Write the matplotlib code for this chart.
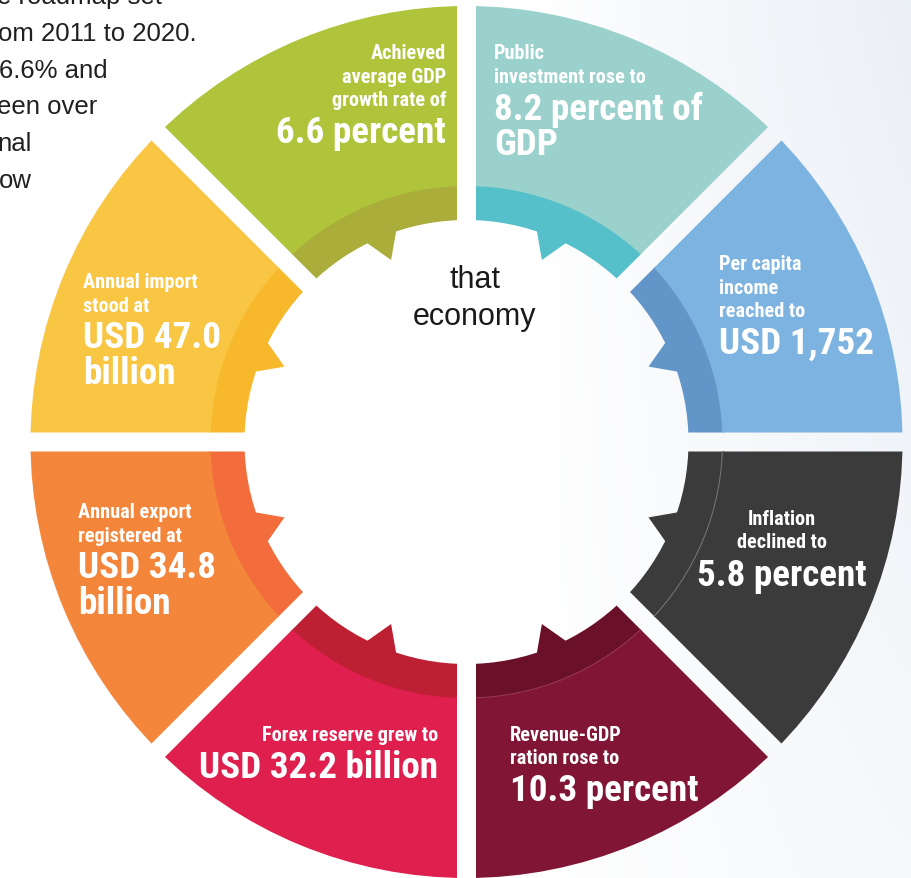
import numpy as np
import matplotlib.pyplot as plt
from matplotlib.patches import Wedge, Polygon, Arc

W, H = 911, 879
DPI = 100

# segments, clockwise from 12 o'clock
small_lines = [
    ['Public', 'investment rose to'],
    ['Per capita', 'income', 'reached to'],
    ['Inflation', 'declined to'],
    ['Revenue-GDP', 'ration rose to'],
    ['Forex reserve grew to'],
    ['Annual export', 'registered at'],
    ['Annual import', 'stood at'],
    ['Achieved', 'average GDP', 'growth rate of'],
]
big_lines = [
    ['8.2 percent of', 'GDP'],
    ['USD 1,752'],
    ['5.8 percent'],
    ['10.3 percent'],
    ['USD 32.2 billion'],
    ['USD 34.8', 'billion'],
    ['USD 47.0', 'billion'],
    ['6.6 percent'],
]
light_colors = ['#9bd1cd', '#7db3e0', '#3b3b3b', '#801535', '#df1f4e', '#f4863b', '#f9c644', '#afc43a']
band_colors = ['#55c0ca', '#6296c8', '#3b3b3b', '#6b1029', '#bc2032', '#f26c3c', '#f8b82b', '#aaad3a']
seam_colors = [None, None, '#7a7a7a', '#9a3a55', None, None, None, None]

center_words = ['that', 'economy']
intro_lines = ['e roadmap set', 'om 2011 to 2020.', '6.6% and', 'een over', 'nal', 'ow']

# layout (image pixel coords, y down)
cx, cy_img = 466.5, 443
R_OUT, R_BAND, R_IN, R_TIP = 436, 256, 222, 197
GAP = 19
text_x = [494, 719, 782, 510, 438, 78, 83, 446]
text_ha = ['left', 'left', 'center', 'left', 'right', 'left', 'left', 'right']
text_y0 = [59, 270, 525, 741, 741, 518, 288, 59]
intro_x = [162, 197, 108, 97, 32, 32]
COND = ['Liberation Sans Narrow', 'Roboto Condensed', 'Roboto', 'DejaVu Sans']
PLAIN = ['Liberation Sans', 'DejaVu Sans']

fig = plt.figure(figsize=(W / DPI, H / DPI), dpi=DPI, facecolor='white')
ax = fig.add_axes([0, 0, 1, 1])
ax.set_xlim(0, W)
ax.set_ylim(0, H)
ax.set_aspect('equal')
ax.axis('off')
renderer = fig.canvas.get_renderer()

# faint grey-blue shading towards the right edge
gx = np.linspace(0, 1, 120)
gy = np.linspace(0, 1, 60)[:, None]
f = np.clip((gx - 0.6) / 0.4, 0, 1) ** 0.8 * (0.45 + 0.55 * gy)
shade = np.array([0.925, 0.941, 0.965])
img = 1 - f[..., None] * (1 - shade)
ax.imshow(img, extent=[0, W, 0, H], origin='lower', aspect='auto',
          interpolation='bicubic', zorder=0)


def fit_size(s, target_px):
    # font size that makes s about target_px wide in the label font
    t = fig.text(0, 0, s, fontsize=10, fontweight='bold', family=COND)
    w = t.get_window_extent(renderer).width
    t.remove()
    return 10 * target_px / w


BIG = fit_size('USD 32.2 billion', 240)
SMALL = fit_size('Forex reserve grew to', 176)

cy = H - cy_img
n = len(small_lines)
step = 360 / n
half_gap = GAP / 2

for i in range(n):
    a2 = 90 - step * i
    a1 = a2 - step
    mid = np.radians((a1 + a2) / 2)
    # clip region: the sector pulled in by half a gap on both sides
    u1 = np.array([np.cos(np.radians(a1)), np.sin(np.radians(a1))])
    u2 = np.array([np.cos(np.radians(a2)), np.sin(np.radians(a2))])
    p0 = np.array([cx, cy]) + half_gap / np.sin(np.radians(step / 2)) * np.array([np.cos(mid), np.sin(mid)])
    clip = Polygon([p0, p0 + 700 * u1, p0 + 700 * u2], closed=True, transform=ax.transData)

    parts = []
    # inner darker band + tooth
    parts.append(Wedge((cx, cy), R_BAND + 2, a1, a2, width=R_BAND + 2 - R_IN,
                       facecolor=band_colors[i], edgecolor='none'))
    da = np.radians(4)
    pts = [(cx + R_IN * np.cos(mid + da), cy + R_IN * np.sin(mid + da)),
           (cx + R_TIP * np.cos(mid), cy + R_TIP * np.sin(mid)),
           (cx + R_IN * np.cos(mid - da), cy + R_IN * np.sin(mid - da)),
           (cx + (R_IN + 4) * np.cos(mid - da), cy + (R_IN + 4) * np.sin(mid - da)),
           (cx + (R_IN + 4) * np.cos(mid + da), cy + (R_IN + 4) * np.sin(mid + da))]
    parts.append(Polygon(pts, closed=True, facecolor=band_colors[i], edgecolor='none'))
    # outer lighter part
    parts.append(Wedge((cx, cy), R_OUT, a1, a2, width=R_OUT - R_BAND,
                       facecolor=light_colors[i], edgecolor='none'))
    if seam_colors[i]:
        parts.append(Arc((cx, cy), 2 * R_BAND, 2 * R_BAND, theta1=a1, theta2=a2,
                         color=seam_colors[i], lw=0.7))
    for p in parts:
        p.set_zorder(2)
        ax.add_patch(p)
        p.set_clip_path(clip)

# segment labels
for i in range(n):
    y = text_y0[i]
    for s in small_lines[i]:
        ax.text(text_x[i], H - y, s, ha=text_ha[i], va='baseline', color='white',
                fontsize=SMALL, fontweight='bold', family=COND, zorder=4)
        y += 23.5
    y += 37 - 23.5
    for b in big_lines[i]:
        ax.text(text_x[i], H - y, b, ha=text_ha[i], va='baseline', color='white',
                fontsize=BIG, fontweight='bold', family=COND, zorder=4)
        y += 35.5

# centre words
for k, w in enumerate(center_words):
    ax.text(475, H - (288 + 37 * k), w, ha='center', va='baseline', color='#1a1a1a',
            fontsize=22, family=PLAIN, zorder=4)

# cut-off paragraph at top left
for k, s in enumerate(intro_lines):
    ax.text(intro_x[k], H - (4 + 36.8 * k), s, ha='right', va='baseline',
            color='#231f20', fontsize=18.5, family=PLAIN, zorder=4)

fig.savefig('out.png', dpi=DPI, facecolor='white')
